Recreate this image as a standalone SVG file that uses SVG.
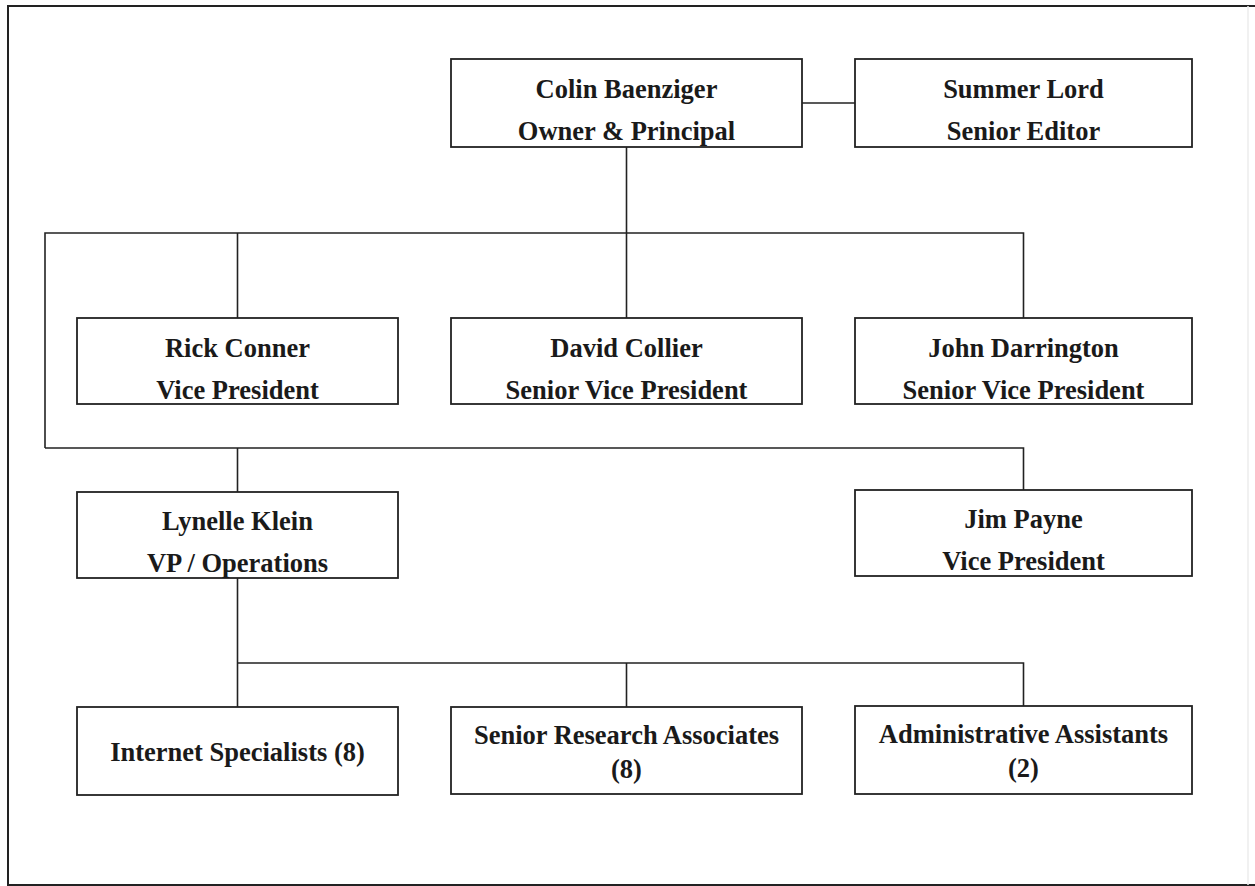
<svg xmlns="http://www.w3.org/2000/svg" width="1255" height="886" viewBox="0 0 1255 886">
<style>
.box{fill:#fff;stroke:#222;stroke-width:1.8}
.t{font-family:"Liberation Serif","Times New Roman",serif;font-weight:bold;font-size:26.5px;fill:#1a1a1a;text-anchor:middle}
.c{fill:none;stroke:#222;stroke-width:1.6}
</style>
<rect width="1255" height="886" fill="#fff"/>
<path d="M1255,6 H8 V885 H1255" fill="none" stroke="#222" stroke-width="2"/>
<line x1="1248" y1="6" x2="1248" y2="885" stroke="#ececec" stroke-width="1.5"/>
<g id="connectors">
<path class="c" d="M802,103 H855"/>
<path class="c" d="M626.5,147 V318"/>
<path class="c" d="M45,448 V233 H1023.5 V318"/>
<path class="c" d="M237.5,233 V318"/>
<path class="c" d="M45,448 H1023.5 V492"/>
<path class="c" d="M237.5,448 V492"/>
<path class="c" d="M237.5,578 V707"/>
<path class="c" d="M237.5,663 H1023.5 V707"/>
<path class="c" d="M626.5,663 V707"/>
</g>
<g id="colin"><rect class="box" x="451" y="59" width="351" height="88"/><text class="t" x="626.5" y="98">Colin Baenziger</text><text class="t" x="626.5" y="140">Owner &amp; Principal</text></g>
<g id="summer"><rect class="box" x="855" y="59" width="337" height="88"/><text class="t" x="1023.5" y="98">Summer Lord</text><text class="t" x="1023.5" y="140">Senior Editor</text></g>
<g id="rick"><rect class="box" x="77" y="318" width="321" height="86"/><text class="t" x="237.5" y="357">Rick Conner</text><text class="t" x="237.5" y="399">Vice President</text></g>
<g id="david"><rect class="box" x="451" y="318" width="351" height="86"/><text class="t" x="626.5" y="357">David Collier</text><text class="t" x="626.5" y="399">Senior Vice President</text></g>
<g id="john"><rect class="box" x="855" y="318" width="337" height="86"/><text class="t" x="1023.5" y="357">John Darrington</text><text class="t" x="1023.5" y="399">Senior Vice President</text></g>
<g id="lynelle"><rect class="box" x="77" y="492" width="321" height="86"/><text class="t" x="237.5" y="530">Lynelle Klein</text><text class="t" x="237.5" y="572">VP / Operations</text></g>
<g id="jim"><rect class="box" x="855" y="490" width="337" height="86"/><text class="t" x="1023.5" y="528">Jim Payne</text><text class="t" x="1023.5" y="570">Vice President</text></g>
<g id="internet"><rect class="box" x="77" y="707" width="321" height="88"/><text class="t" x="237.5" y="761">Internet Specialists (8)</text></g>
<g id="research"><rect class="box" x="451" y="707" width="351" height="87"/><text class="t" x="626.5" y="744">Senior Research Associates</text><text class="t" x="626.5" y="778">(8)</text></g>
<g id="admin"><rect class="box" x="855" y="706" width="337" height="88"/><text class="t" x="1023.5" y="743">Administrative Assistants</text><text class="t" x="1023.5" y="777">(2)</text></g>
</svg>
